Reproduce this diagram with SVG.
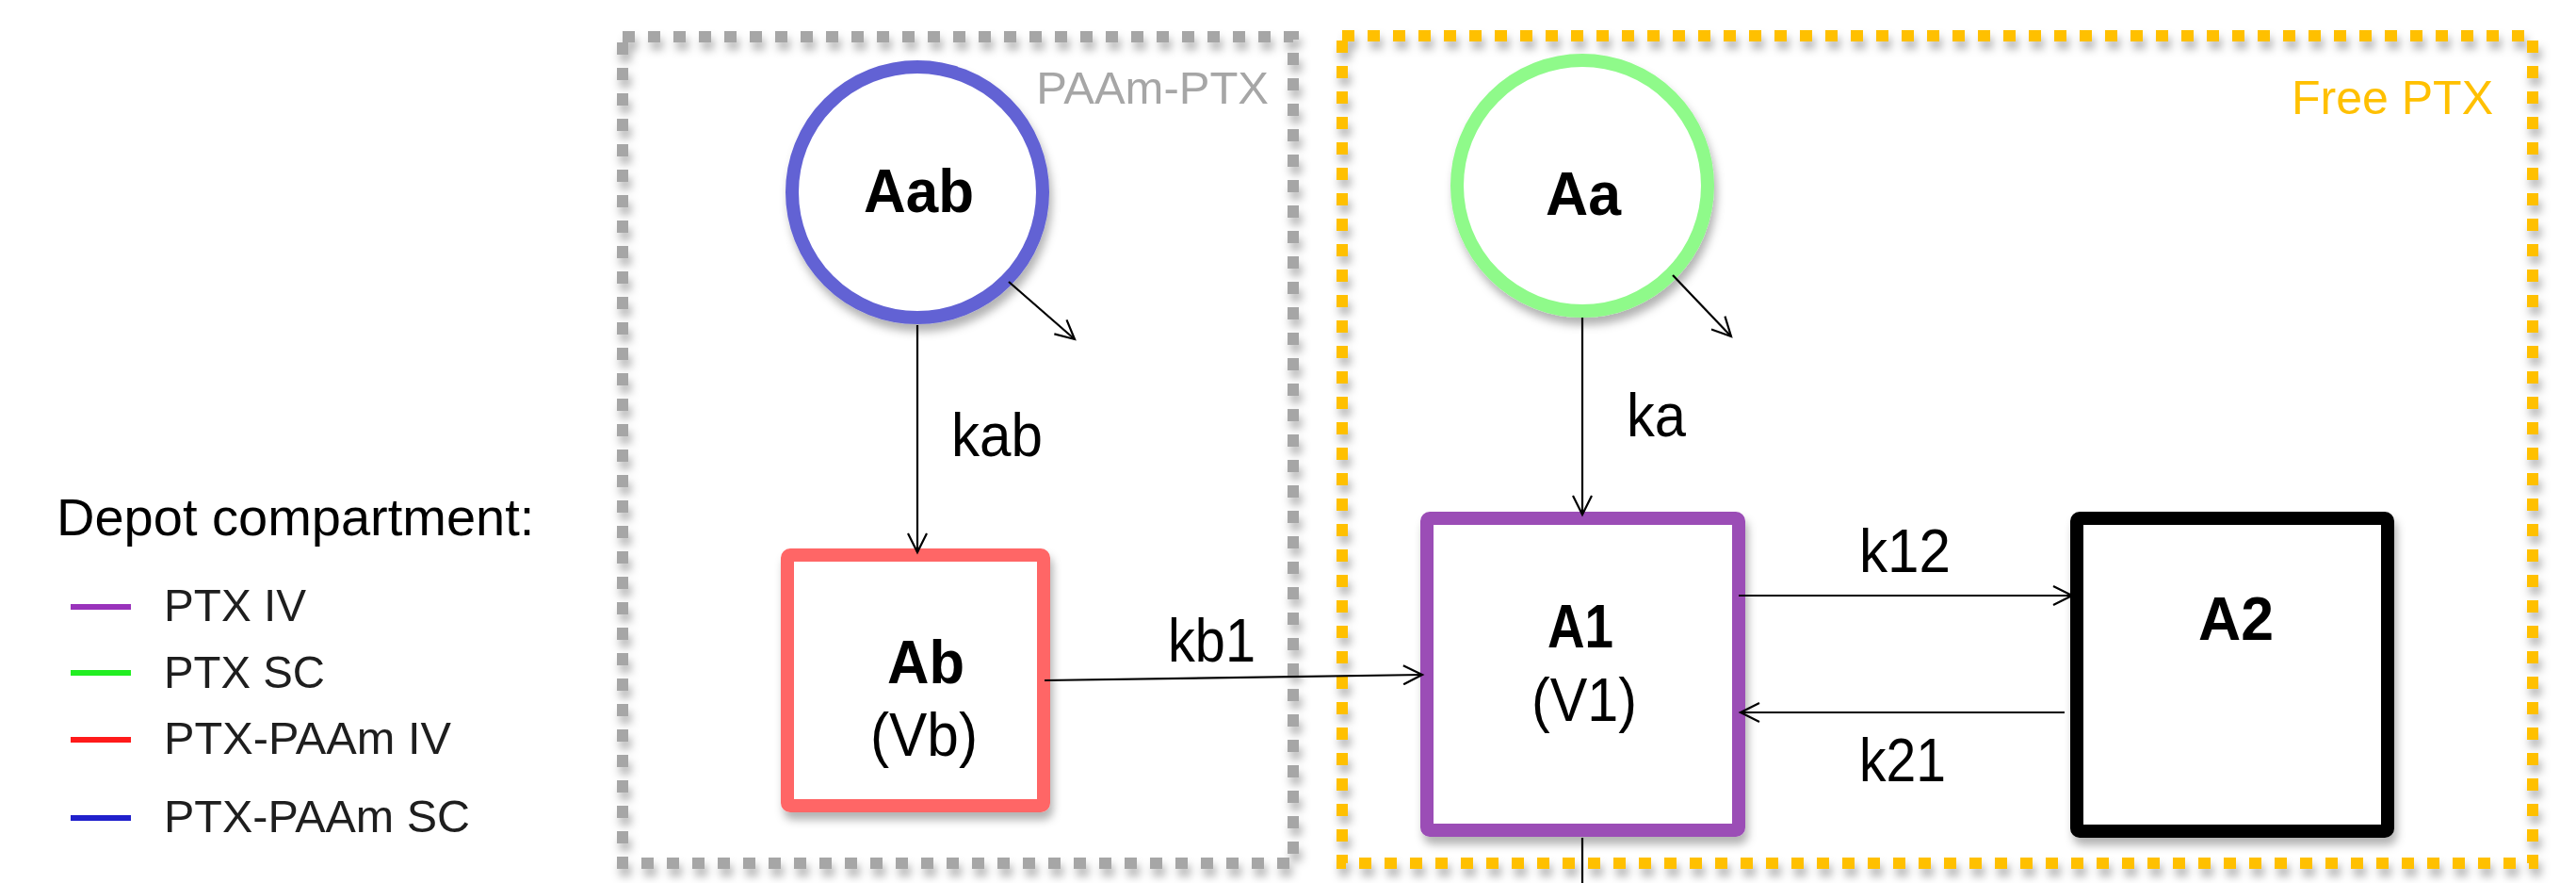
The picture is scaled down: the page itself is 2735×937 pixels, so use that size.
<svg xmlns="http://www.w3.org/2000/svg" width="2735" height="937" viewBox="0 0 2735 937">
<style>
  .txt { font-family: "Liberation Sans", Arial, sans-serif; }
  .bold { font-family: "Liberation Sans", Arial, sans-serif; font-weight: bold; font-size: 64px; fill: #000; }
  .reg { font-family: "Liberation Sans", Arial, sans-serif; font-size: 65px; fill: #000; }
  .rate { font-family: "Liberation Sans", Arial, sans-serif; font-size: 65px; fill: #000; }
  .legend { font-family: "Liberation Sans", Arial, sans-serif; font-size: 49px; fill: #1e1e1e; }
  .conn { stroke: #000; stroke-width: 2.2; fill: none; marker-end: url(#arrow); }
  .grp { fill: none; stroke-width: 12; stroke-dasharray: 13 14; }
</style>
<defs>
  <filter id="shadow" x="-20%" y="-20%" width="140%" height="140%">
    <feDropShadow dx="3" dy="8" stdDeviation="5" flood-color="#000" flood-opacity="0.3"/>
  </filter>
  <marker id="arrow" viewBox="0 0 24 22" markerWidth="24" markerHeight="22" refX="21" refY="11" orient="auto" markerUnits="userSpaceOnUse">
    <path d="M1,1 L21,11 L1,21" fill="none" stroke="#000" stroke-width="2.2"/>
  </marker>
</defs>
<rect width="2735" height="937" fill="#fff"/>

<g id="group-paam-ptx">
  <rect x="661" y="39" width="712" height="877" class="grp" stroke="#a6a6a6" filter="url(#shadow)"/>
  <text x="1347" y="110" class="txt" font-size="49" fill="#a6a6a6" text-anchor="end">PAAm-PTX</text>
</g>

<g id="group-free-ptx">
  <rect x="1425" y="38" width="1264" height="878" class="grp" stroke="#ffc000" stroke-width="13" filter="url(#shadow)"/>
  <text x="2647" y="121" class="txt" font-size="50" fill="#ffc000" text-anchor="end">Free PTX</text>
</g>

<g id="legend">
  <text x="60" y="568" class="txt" font-size="56" fill="#000">Depot compartment:</text>
  <line x1="75" y1="644" x2="139" y2="644" stroke="#9933bb" stroke-width="6"/>
  <line x1="75" y1="714" x2="139" y2="714" stroke="#22ee22" stroke-width="6"/>
  <line x1="75" y1="785" x2="139" y2="785" stroke="#ff1a1a" stroke-width="6"/>
  <line x1="75" y1="868" x2="139" y2="868" stroke="#2020cc" stroke-width="6"/>
  <text x="174" y="659" class="legend" textLength="151" lengthAdjust="spacingAndGlyphs">PTX IV</text>
  <text x="174" y="730" class="legend" textLength="171" lengthAdjust="spacingAndGlyphs">PTX SC</text>
  <text x="174" y="800" class="legend" textLength="305" lengthAdjust="spacingAndGlyphs">PTX-PAAm IV</text>
  <text x="174" y="883" class="legend" textLength="325" lengthAdjust="spacingAndGlyphs">PTX-PAAm SC</text>
</g>

<g id="node-Aab">
  <circle cx="974" cy="204" r="133" fill="#fff" stroke="#6262d4" stroke-width="14" filter="url(#shadow)"/>
  <text x="917" y="225" class="bold" textLength="117" lengthAdjust="spacingAndGlyphs">Aab</text>
</g>

<g id="node-Aa">
  <circle cx="1680" cy="197" r="133" fill="#fff" stroke="#8ffa8a" stroke-width="14" filter="url(#shadow)"/>
  <text x="1641" y="228" class="bold" textLength="80" lengthAdjust="spacingAndGlyphs">Aa</text>
</g>

<g id="node-Ab">
  <rect x="836" y="589" width="272" height="266" rx="3" fill="#fff" stroke="#ff6666" stroke-width="14" filter="url(#shadow)"/>
  <text x="942" y="725" class="bold" textLength="82" lengthAdjust="spacingAndGlyphs">Ab</text>
  <text x="924" y="802" class="reg" textLength="114" lengthAdjust="spacingAndGlyphs">(Vb)</text>
</g>

<g id="node-A1">
  <rect x="1515" y="550" width="331" height="331" rx="3" fill="#fff" stroke="#9b4db6" stroke-width="14" filter="url(#shadow)"/>
  <text x="1643" y="687" class="bold" textLength="70" lengthAdjust="spacingAndGlyphs">A1</text>
  <text x="1626" y="765" class="reg" textLength="112" lengthAdjust="spacingAndGlyphs">(V1)</text>
</g>

<g id="node-A2">
  <rect x="2205" y="550" width="330" height="332" rx="3" fill="#fff" stroke="#000" stroke-width="14" filter="url(#shadow)"/>
  <text x="2334" y="679" class="bold" textLength="80" lengthAdjust="spacingAndGlyphs">A2</text>
</g>

<g id="connectors">
  <line x1="974" y1="345" x2="974" y2="586" class="conn"/>
  <line x1="1071" y1="299" x2="1141" y2="360" class="conn"/>
  <line x1="1680" y1="337" x2="1680" y2="546" class="conn"/>
  <line x1="1776" y1="292" x2="1838" y2="357" class="conn"/>
  <line x1="1109" y1="722" x2="1510" y2="716" class="conn" stroke-width="3"/>
  <line x1="1846" y1="632" x2="2200" y2="632" class="conn" stroke-width="2.6"/>
  <line x1="2192" y1="756" x2="1848" y2="756" class="conn" stroke-width="2.6"/>
  <line x1="1680" y1="889" x2="1680" y2="937" stroke="#000" stroke-width="2.2"/>
  <text x="1010" y="484" class="rate" textLength="97" lengthAdjust="spacingAndGlyphs">kab</text>
  <text x="1727" y="463" class="rate" textLength="63" lengthAdjust="spacingAndGlyphs">ka</text>
  <text x="1240" y="702" class="rate" textLength="93" lengthAdjust="spacingAndGlyphs">kb1</text>
  <text x="1974" y="607" class="rate" textLength="97" lengthAdjust="spacingAndGlyphs">k12</text>
  <text x="1974" y="829" class="rate" textLength="92" lengthAdjust="spacingAndGlyphs">k21</text>
</g>
</svg>
